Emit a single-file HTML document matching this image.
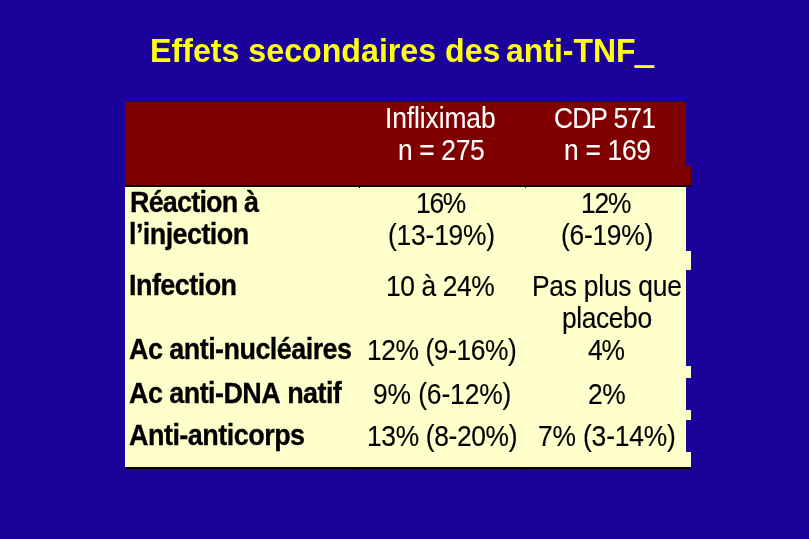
<!DOCTYPE html>
<html lang="fr">
<head>
<meta charset="utf-8">
<title>Effets secondaires des anti-TNF</title>
<style>
html,body{margin:0;padding:0;}
body{width:809px;height:539px;background:#1a029b;position:relative;overflow:hidden;
 font-family:"Liberation Sans",Arial,sans-serif;font-kerning:none;}
.abs{position:absolute;}
.hdr{background:#800000;}
.cream{background:#ffffcc;}
.blk{background:#000;}
.t{position:absolute;font-size:29px;line-height:34px;white-space:nowrap;transform-origin:0 0;-webkit-text-stroke:0.15px currentColor;}
.w{color:#fff;-webkit-text-stroke-width:0.1px;}
.y{color:#ffff11;font-weight:bold;font-size:33.5px;line-height:40px;-webkit-text-stroke-width:0;}
.b{font-weight:bold;color:#000;-webkit-text-stroke-width:0.3px;}
.k{color:#000;}
.us{-webkit-text-stroke:1.6px currentColor;position:relative;top:1px;}
</style>
</head>
<body>

<!-- table shapes -->
<div class="abs hdr" style="left:125px;top:102px;width:561px;height:84px"></div>
<div class="abs hdr" style="left:686px;top:166px;width:5px;height:20px"></div>
<div class="abs cream" style="left:125px;top:186px;width:561px;height:282px"></div>
<div class="abs cream" style="left:686px;top:251px;width:5px;height:19px"></div>
<div class="abs cream" style="left:686px;top:366px;width:5px;height:12px"></div>
<div class="abs cream" style="left:686px;top:410px;width:5px;height:10px"></div>
<div class="abs cream" style="left:686px;top:452px;width:5px;height:16px"></div>
<div class="abs blk" style="left:125px;top:185px;width:567px;height:2px"></div>
<div class="abs blk" style="left:125px;top:467px;width:567px;height:2px"></div>
<div class="abs blk" style="left:359px;top:185px;width:1px;height:3px"></div>
<div class="abs blk" style="left:525px;top:185px;width:1px;height:3px"></div>
<div class="abs blk" style="left:359px;top:467px;width:1px;height:3px"></div>
<div class="abs blk" style="left:525px;top:467px;width:1px;height:3px"></div>

<!-- table text -->
<div class="t y" id="title_a" style="left:150.04px;top:31px;transform:scaleX(0.9605)">Effets secondaires des</div>
<div class="t y" id="title_b" style="left:506.30px;top:31px;transform:scaleX(0.9538)">anti-TNF<span class="us">_</span></div>
<div class="t w" id="h2_0" style="left:385.18px;top:101px;transform:scaleX(0.9100);letter-spacing:-0.111px">Infliximab</div>
<div class="t w" id="h2_1" style="left:398.18px;top:133px;transform:scaleX(0.9100);letter-spacing:-0.379px">n = 275</div>
<div class="t w" id="h3_0" style="left:554.16px;top:101px;transform:scaleX(0.9100);letter-spacing:-0.959px">CDP 571</div>
<div class="t w" id="h3_1" style="left:564.07px;top:133px;transform:scaleX(0.9100);letter-spacing:-0.329px">n = 169</div>
<div class="t b" id="r1a_0" style="left:129.76px;top:185px;transform:scaleX(0.9300);letter-spacing:-0.869px">Réaction à</div>
<div class="t b" id="r1a_1" style="left:129.40px;top:217px;transform:scaleX(0.9300);letter-spacing:-0.618px">l’injection</div>
<div class="t k" id="r1b_0" style="left:415.72px;top:186px;transform:scaleX(0.9100);letter-spacing:-1.366px">16%</div>
<div class="t k" id="r1b_1" style="left:387.84px;top:218px;transform:scaleX(0.9100);letter-spacing:-0.216px">(13-19%)</div>
<div class="t k" id="r1c_0" style="left:581.10px;top:186px;transform:scaleX(0.9100);letter-spacing:-1.290px">12%</div>
<div class="t k" id="r1c_1" style="left:561.14px;top:218px;transform:scaleX(0.9100);letter-spacing:-0.290px">(6-19%)</div>
<div class="t b" id="r2a_0" style="left:128.83px;top:268px;transform:scaleX(0.9300);letter-spacing:-0.577px">Infection</div>
<div class="t k" id="r2b_0" style="left:386.44px;top:269px;transform:scaleX(0.9100);letter-spacing:-0.437px">10 à 24%</div>
<div class="t k" id="r2c_0" style="left:531.70px;top:269px;transform:scaleX(0.9100);letter-spacing:-0.268px">Pas plus que</div>
<div class="t k" id="r2c_1" style="left:561.96px;top:301px;transform:scaleX(0.9100);letter-spacing:-0.436px">placebo</div>
<div class="t b" id="r3a_0" style="left:128.72px;top:332px;transform:scaleX(0.9300);letter-spacing:-0.585px">Ac anti-nucléaires</div>
<div class="t k" id="r3b_0" style="left:367.00px;top:333px;transform:scaleX(0.9100);letter-spacing:-0.455px">12% (9-16%)</div>
<div class="t k" id="r3c_0" style="left:588.42px;top:333px;transform:scaleX(0.9100);letter-spacing:-1.167px">4%</div>
<div class="t b" id="r4a_0" style="left:129.04px;top:376px;transform:scaleX(0.9300);letter-spacing:-0.600px">Ac anti-DNA natif</div>
<div class="t k" id="r4b_0" style="left:372.55px;top:377px;transform:scaleX(0.9100);letter-spacing:-0.120px">9% (6-12%)</div>
<div class="t k" id="r4c_0" style="left:587.86px;top:377px;transform:scaleX(0.9100);letter-spacing:-0.508px">2%</div>
<div class="t b" id="r5a_0" style="left:129.04px;top:418px;transform:scaleX(0.9300);letter-spacing:-0.553px">Anti-anticorps</div>
<div class="t k" id="r5b_0" style="left:367.00px;top:419px;transform:scaleX(0.9100);letter-spacing:-0.390px">13% (8-20%)</div>
<div class="t k" id="r5c_0" style="left:538.04px;top:419px;transform:scaleX(0.9100);letter-spacing:-0.177px">7% (3-14%)</div>
</body>
</html>
